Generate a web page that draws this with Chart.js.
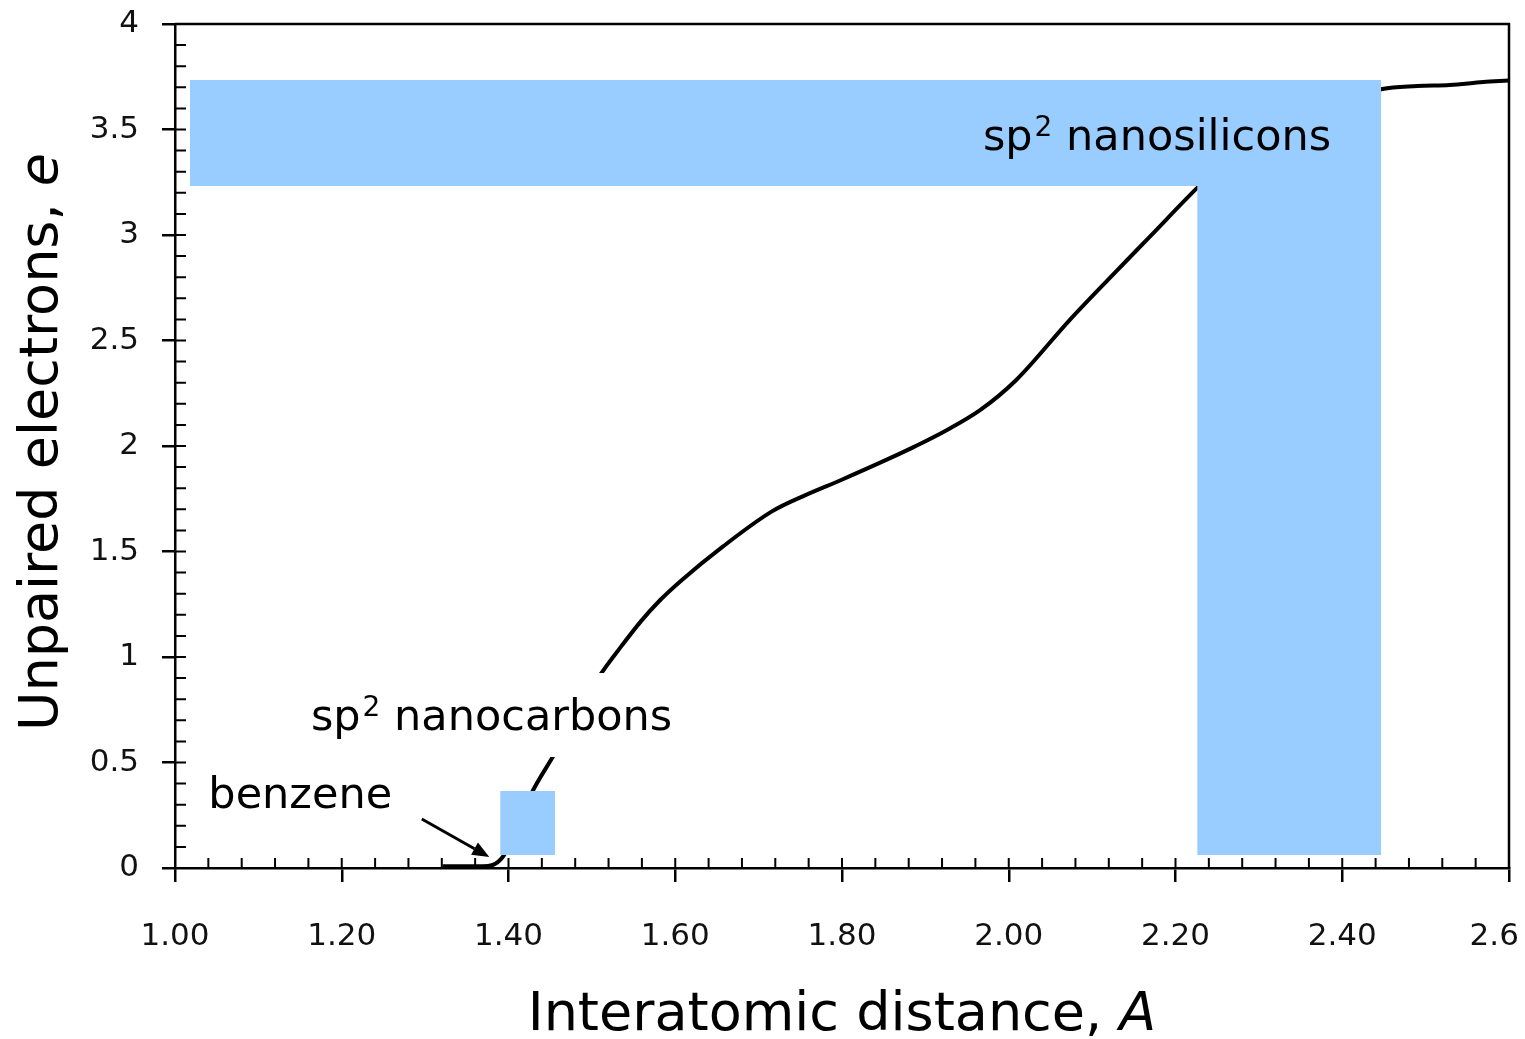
<!DOCTYPE html>
<html>
<head>
<meta charset="utf-8">
<title>Unpaired electrons vs interatomic distance</title>
<script src="https://cdn.jsdelivr.net/npm/chart.js@4.4.0/dist/chart.umd.min.js"></script>
<style>
  html, body { margin: 0; padding: 0; background: #fff; }
</style>
</head>
<body>
<canvas id="myChart" width="1525" height="1039"></canvas>
<script>
// N_D(R) curve: interatomic distance (A) vs unpaired electrons
let distX     = [1.321, 1.369, 1.393, 1.429, 1.453, 1.510, 1.535, 1.559, 1.582, 1.608, 1.657, 1.716, 1.755, 1.799, 1.853, 1.887, 1.926, 1.966, 2.009, 2.073, 2.121, 2.169, 2.226, 2.290, 2.448, 2.490, 2.529, 2.569, 2.599];
let electrons = [0.008, 0.008, 0.052, 0.365, 0.526, 0.915, 1.049, 1.170, 1.270, 1.365, 1.523, 1.690, 1.765, 1.839, 1.934, 1.997, 2.076, 2.171, 2.313, 2.597, 2.796, 2.991, 3.223, 3.460, 3.692, 3.706, 3.711, 3.725, 3.732];

// last label kept off the right edge with trailing spaces
let xTickLabels = ['1.00', '1.20', '1.40', '1.60', '1.80', '2.00', '2.20', '2.40', '2.6   '];

// shaded regions [from, to]
let siBandX = [1.018, 2.4465];
let siBandY = [3.232, 3.735];
let siColX  = [2.226, 2.4465];
let siColY  = [0.062, 3.232];
let cBoxX   = [1.390, 1.456];
let cBoxY   = [0.062, 0.365];

const blue = '#99ccff';
const font = '"DejaVu Sans", sans-serif';

function region(xr, yr){
    return {
        data: [{x: xr[0], y: yr[1]}, {x: xr[1], y: yr[1]}],
        fill: {value: yr[0]},
        backgroundColor: blue,
        borderColor: 'transparent',
        borderWidth: 0,
        pointRadius: 0,
        order: 0
    };
}

// "sp" + superscript 2 + rest, left aligned on baseline
function sp2(ctx, rest, px, py, size){
    ctx.font = size + 'px ' + font;
    ctx.fillText('sp', px, py);
    let w = ctx.measureText('sp').width + 2;
    ctx.font = Math.round(size * 0.64) + 'px ' + font;
    ctx.fillText('2', px + w, py - size * 0.33);
    w += ctx.measureText('2').width;
    ctx.font = size + 'px ' + font;
    ctx.fillText(' ' + rest, px + w, py);
}

function arrow(ctx, x1, y1, x2, y2){
    let ang = Math.atan2(y2 - y1, x2 - x1);
    let hl = 17, hw = 7;
    let bx = x2 - hl * Math.cos(ang), by = y2 - hl * Math.sin(ang);
    ctx.beginPath();
    ctx.moveTo(x1, y1);
    ctx.lineTo(bx, by);
    ctx.stroke();
    ctx.beginPath();
    ctx.moveTo(x2, y2);
    ctx.lineTo(bx + hw * Math.sin(ang), by - hw * Math.cos(ang));
    ctx.lineTo(bx - hw * Math.sin(ang), by + hw * Math.cos(ang));
    ctx.closePath();
    ctx.fill();
}

const decor = {
    id: 'decor',
    afterDatasetsDraw(chart){
        const {ctx, chartArea: a, scales: {x, y}} = chart;
        ctx.save();
        ctx.strokeStyle = '#000';
        ctx.fillStyle = '#000';

        // top and right frame
        ctx.lineWidth = 2.5;
        ctx.beginPath();
        ctx.moveTo(a.left, a.top);
        ctx.lineTo(a.right, a.top);
        ctx.lineTo(a.right, a.bottom);
        ctx.stroke();

        // inner ticks
        ctx.lineWidth = 2;
        ctx.beginPath();
        for(let i = 1; i < 40; i++){
            let py = y.getPixelForValue(i * 0.1);
            ctx.moveTo(a.left, py);
            ctx.lineTo(a.left + 11, py);
            let px = x.getPixelForValue(1 + i * 0.04);
            ctx.moveTo(px, a.bottom);
            ctx.lineTo(px, a.bottom - 10);
        }
        ctx.stroke();

        ctx.textBaseline = 'alphabetic';
        ctx.textAlign = 'left';

        sp2(ctx, 'nanosilicons', x.getPixelForValue(1.969), y.getPixelForValue(3.403), 43);

        // white box behind the nanocarbons label
        ctx.fillStyle = '#fff';
        let bl = x.getPixelForValue(1.150), br = x.getPixelForValue(1.624);
        let bt = y.getPixelForValue(0.924), bb = y.getPixelForValue(0.526);
        ctx.fillRect(bl, bt, br - bl, bb - bt);
        ctx.fillStyle = '#000';
        sp2(ctx, 'nanocarbons', x.getPixelForValue(1.163), y.getPixelForValue(0.654), 43);

        ctx.font = '43px ' + font;
        ctx.fillText('benzene', x.getPixelForValue(1.040), y.getPixelForValue(0.284));

        ctx.lineWidth = 3;
        arrow(ctx, x.getPixelForValue(1.296), y.getPixelForValue(0.232),
                   x.getPixelForValue(1.377), y.getPixelForValue(0.052));

        // axis titles
        let size = 54;
        let t1 = 'Interatomic distance, ', t2 = 'A';
        ctx.font = size + 'px ' + font;
        let w1 = ctx.measureText(t1).width;
        ctx.font = 'italic ' + size + 'px ' + font;
        let w2 = ctx.measureText(t2).width;
        let sx = (a.left + a.right) / 2 - (w1 + w2) / 2;
        ctx.font = size + 'px ' + font;
        ctx.fillText(t1, sx, 1030);
        ctx.font = 'italic ' + size + 'px ' + font;
        ctx.fillText(t2, sx + w1, 1030);

        let u1 = 'Unpaired electrons, ', u2 = 'e';
        ctx.font = size + 'px ' + font;
        let v1 = ctx.measureText(u1).width;
        ctx.font = 'italic ' + size + 'px ' + font;
        let v2 = ctx.measureText(u2).width;
        ctx.translate(57, (a.top + a.bottom) / 2 - 4);
        ctx.rotate(-Math.PI / 2);
        ctx.font = size + 'px ' + font;
        ctx.fillText(u1, -(v1 + v2) / 2, 0);
        ctx.font = 'italic ' + size + 'px ' + font;
        ctx.fillText(u2, -(v1 + v2) / 2 + v1, 0);

        ctx.restore();
    }
};

let points = distX.map((d, i) => ({x: d, y: electrons[i]}));

const ctx = document.getElementById('myChart');
new Chart(ctx, {
    type: 'line',
    data: {
        datasets: [
            region(siBandX, siBandY),
            region(siColX, siColY),
            region(cBoxX, cBoxY),
            {
                data: points,
                borderColor: '#000',
                borderWidth: 4,
                pointRadius: 0,
                fill: false,
                cubicInterpolationMode: 'monotone',
                order: 1
            }
        ]
    },
    options: {
        responsive: false,
        animation: false,
        layout: {padding: {top: 24, right: 16, left: 0, bottom: 0}},
        plugins: {legend: {display: false}, tooltip: {enabled: false}},
        scales: {
            x: {
                type: 'linear',
                min: 1, max: 2.6,
                ticks: {
                    stepSize: 0.2,
                    callback: (v, i) => xTickLabels[i],
                    font: {family: 'DejaVu Sans', size: 31},
                    color: '#111',
                    padding: 36,
                    maxRotation: 0
                },
                grid: {drawOnChartArea: false, drawTicks: true, tickLength: 14, color: '#000', lineWidth: 2.5},
                border: {display: true, color: '#000', width: 2.5},
                afterFit(s){ s.height = 171; s.paddingLeft = 0; s.paddingRight = 0; }
            },
            y: {
                min: 0, max: 4,
                ticks: {
                    stepSize: 0.5,
                    callback: v => String(v),
                    font: {family: 'DejaVu Sans', size: 31},
                    color: '#111',
                    padding: 23
                },
                grid: {drawOnChartArea: false, drawTicks: true, tickLength: 13, color: '#000', lineWidth: 2.5},
                border: {display: true, color: '#000', width: 2.5},
                afterFit(s){ s.width = 175; s.paddingTop = 0; s.paddingBottom = 0; }
            }
        }
    },
    plugins: [decor]
});
</script>
</body>
</html>
